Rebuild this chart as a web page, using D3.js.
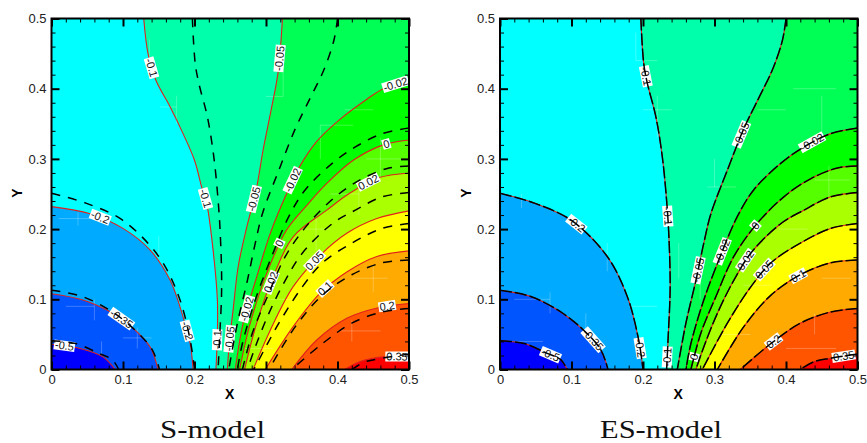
<!DOCTYPE html>
<html>
<head>
<meta charset="utf-8">
<script src="https://cdn.jsdelivr.net/npm/d3@7"></script>
<style>
    html, body { margin: 0; padding: 0; background: #fff; }
    svg { display: block; }
    text { font-family: "Liberation Sans", Arial, sans-serif; }
</style>
</head>
<body>
<div id="chart"></div>
<script>

// contour levels and the colour of the band just above each level
let levels = ["-0.5", "-0.35", "-0.2", "-0.1", "-0.05", "-0.02", "0", "0.02", "0.05", "0.1", "0.2", "0.35"];
let bandBase = "#0000ff";
let bandColors = ["#0055ff", "#00aaff", "#00ffff", "#00ffaa", "#00ff55", "#00ff00", "#55ff00", "#aaff00", "#ffff00", "#ffaa00", "#ff5500", "#ff0000"];

let majorTicks = [0, 0.1, 0.2, 0.3, 0.4, 0.5];
let minorTicks = [0.02, 0.04, 0.06, 0.08, 0.12, 0.14, 0.16, 0.18, 0.22, 0.24, 0.26, 0.28, 0.32, 0.34, 0.36, 0.38, 0.42, 0.44, 0.46, 0.48];

// S-model contours, [x, y]
let sM050 = [[0, .036], [.04, .03], [.072, .018], [.089, 0]];
let sM035 = [[0, .108], [.044, .099], [.086, .08], [.114, .059], [.138, .032], [.149, 0]];
let sM020 = [[0, .232], [.054, .222], [.1, .201], [.138, .17], [.166, .127], [.184, .075], [.194, .037], [.198, 0]];
let sM010 = [[.129, .5], [.135, .45], [.146, .412], [.166, .374], [.184, .336], [.2, .298], [.21, .26], [.217, .237], [.226, .17], [.232, .099], [.232, .052], [.23, 0]];
let sM005 = [[.323, .5], [.317, .424], [.308, .374], [.296, .313], [.287, .26], [.271, .194], [.261, .146], [.254, .085], [.249, .042], [.246, 0]];
let sM002 = [[.5, .412], [.464, .4], [.441, .385], [.403, .356], [.371, .325], [.347, .289], [.329, .251], [.306, .194], [.287, .132], [.268, .066], [.257, 0]];
let sP000 = [[.5, .327], [.464, .32], [.422, .298], [.385, .265], [.359, .236], [.329, .199], [.301, .137], [.278, .066], [.263, 0]];
let sP002 = [[.5, .28], [.457, .273], [.417, .251], [.385, .227], [.338, .189], [.31, .132], [.287, .066], [.27, 0]];
let sP005 = [[.5, .226], [.455, .215], [.413, .194], [.376, .163], [.338, .118], [.306, .056], [.282, 0]];
let sP010 = [[.5, .169], [.455, .161], [.413, .139], [.376, .109], [.338, .061], [.299, 0]];
let sP020 = [[.5, .094], [.457, .088], [.413, .073], [.371, .042], [.336, 0]];
let sP035 = [[.5, .018], [.464, .018], [.431, .011], [.41, 0]];

// ES-model contours, [x, y]
let eM050 = [[0, .041], [.034, .037], [.066, .023], [.085, .014], [.094, 0]];
let eM035 = [[0, .113], [.043, .104], [.085, .082], [.117, .056], [.141, .028], [.151, 0]];
let eM020 = [[0, .251], [.048, .237], [.099, .213], [.15, .161], [.178, .104], [.194, .042], [.2, 0]];
let eM010 = [[.197, .5], [.201, .436], [.206, .408], [.218, .36], [.227, .303], [.233, .241], [.236, .194], [.238, .118], [.235, .042], [.233, 0]];
let eM005 = [[.4, .5], [.395, .469], [.381, .427], [.362, .387], [.341, .343], [.318, .284], [.295, .222], [.285, .18], [.274, .127], [.26, .066], [.248, 0]];
let eM002 = [[.5, .344], [.4625, .336], [.425, .317], [.393, .294], [.355, .256], [.332, .218], [.306, .156], [.285, .099], [.267, .037], [.26, 0]];
let eP000 = [[.5, .29], [.472, .287], [.435, .272], [.397, .246], [.358, .206], [.327, .161], [.302, .104], [.281, .052], [.267, 0]];
let eP002 = [[.5, .252], [.4625, .246], [.425, .227], [.393, .208], [.351, .166], [.327, .127], [.304, .08], [.285, .032], [.274, 0]];
let eP005 = [[.5, .208], [.4625, .201], [.42, .18], [.379, .152], [.351, .118], [.318, .066], [.283, 0]];
let eP010 = [[.5, .156], [.4625, .152], [.42, .135], [.379, .106], [.341, .061], [.304, 0]];
let eP020 = [[.5, .087], [.4625, .082], [.42, .066], [.379, .037], [.336, 0]];
let eP035 = [[.5, .022], [.4625, .016], [.439, .011], [.42, 0]];

let sContours = [sM050, sM035, sM020, sM010, sM005, sM002, sP000, sP002, sP005, sP010, sP020, sP035];
let eContours = [eM050, eM035, eM020, eM010, eM005, eM002, eP000, eP002, eP005, eP010, eP020, eP035];

// contour labels: level, then roughly where it sits on that contour
let sLabels = [
    ["-0.1", .144, .431], ["-0.05", .32, .443], ["-0.02", .48, .41], ["0", .468, .322], ["0.02", .443, .266],
    ["-0.02", .34, .269], ["-0.05", .283, .243], ["-0.1", .213, .243], ["-0.2", .068, .217], ["0", .322, .178],
    ["0.05", .365, .158], ["0.02", .314, .121], ["0.1", .38, .119], ["-0.02", .275, .086], ["-0.05", .252, .043],
    ["-0.1", .231, .043], ["-0.2", .188, .054], ["-0.35", .097, .072], ["-0.5", .019, .036], ["0.2", .469, .091], ["0.35", .483, .024]
];
let eLabels = [
    ["-0.1", .204, .418], ["-0.05", .339, .334], ["-0.02", .435, .326], ["-0.2", .108, .208], ["-0.1", .234, .218],
    ["0", .356, .206], ["-0.02", .311, .168], ["-0.05", .276, .142], ["0.02", .344, .156], ["0.05", .367, .144],
    ["0.1", .417, .133], ["-0.35", .129, .042], ["-0.5", .071, .021], ["-0.2", .197, .03], ["-0.1", .233, .018],
    ["0", .269, .018], ["0.2", .381, .043], ["0.35", .481, .02]
];

// faint mesh lines showing through the fill, [x1, y1, x2, y2]
let sMesh = [
    [.152, .374, .175, .374], [.175, .35, .175, .39], [.376, .348, .422, .348], [.376, .3, .376, .348],
    [.324, .426, .324, .389], [.3, .389, .324, .389], [.41, .37, .45, .37], [.137, .47, .137, .43],
    [.037, .224, .037, .205], [.01, .215, .06, .215], [.15, .19, .15, .16], [.12, .03, .12, .06],
    [.1, .045, .14, .045], [.07, .02, .07, .04], [.42, .04, .42, .07], [.4, .055, .46, .055],
    [.39, .25, .43, .25], [.43, .22, .43, .26], [.02, .09, .06, .09], [.06, .07, .06, .1],
    [.44, .3, .49, .3], [.46, .27, .46, .33], [.35, .2, .39, .2], [.37, .17, .37, .22],
    [.3, .1, .34, .1], [.42, .13, .47, .13], [.45, .11, .45, .15], [.27, .03, .31, .03]
];
let eMesh = [
    [.19, .48, .19, .44], [.19, .44, .22, .44], [.2, .37, .24, .37], [.22, .33, .22, .39],
    [.41, .4, .47, .4], [.45, .34, .45, .39], [.36, .37, .4, .37], [.3, .3, .3, .26],
    [.29, .26, .33, .26], [.02, .1, .07, .1], [.07, .08, .07, .11], [.15, .14, .15, .18],
    [.18, .09, .22, .09], [.25, .18, .25, .13], [.34, .12, .38, .12], [.02, .04, .06, .04],
    [.03, .23, .03, .25], [.44, .05, .44, .08], [.4, .03, .47, .03], [.12, .05, .12, .08],
    [.44, .27, .49, .27], [.46, .24, .46, .29], [.39, .2, .43, .2], [.31, .05, .35, .05],
    [.45, .13, .49, .13], [.28, .1, .28, .14]
];

let width = 867, height = 443;
let plotSize = {w: 357.5, h: 351};
let panels = [
    {left: 51.5, top: 18.5, solid: sContours, labels: sLabels, mesh: sMesh, dash: "9 8", title: "S-model", titleLen: 105, titleX: 212.5},
    {left: 500, top: 18.5, solid: eContours, labels: eLabels, mesh: eMesh, dash: "12 3", title: "ES-model", titleLen: 122, titleX: 661}
];

let svg = d3.select("#chart").append("svg")
    .attr("width", width)
    .attr("height", height);

panels.forEach((p, i) => drawPanel(p, i));

function drawPanel(p, idx) {
    let x = d3.scaleLinear().domain([0, 0.5]).range([0, plotSize.w]);
    let y = d3.scaleLinear().domain([0, 0.5]).range([plotSize.h, 0]);

    let g = svg.append("g").attr("transform", `translate(${p.left}, ${p.top})`);

    let clipId = "plot-clip-" + idx;
    g.append("clipPath").attr("id", clipId)
        .append("rect").attr("width", plotSize.w).attr("height", plotSize.h);

    let body = g.append("g").attr("clip-path", `url(#${clipId})`);

    let line = d3.line()
        .x(d => x(d[0]))
        .y(d => y(d[1]))
        .curve(d3.curveCatmullRom.alpha(0.5));

    // which corners close each contour into a filled band
    let closing = i => {
        if (i < 3) return [[0, 0]];
        if (i < 5) return [[.5, 0], [.5, .5]];
        return [[.5, 0]];
    };

    // cyan is the background band, everything else is painted over it
    body.append("rect")
        .attr("width", plotSize.w)
        .attr("height", plotSize.h)
        .attr("fill", bandColors[2]);

    // bands right of the cyan, low to high
    d3.range(3, levels.length).forEach(i => addBand(i, bandColors[i]));
    // bands around the origin, outermost first
    addBand(2, bandColors[1]);
    addBand(1, bandColors[0]);
    addBand(0, bandBase);

    function addBand(i, color) {
        let corners = closing(i).map(c => `L${x(c[0])},${y(c[1])}`).join("");
        body.append("path")
            .attr("d", line(p.solid[i]) + corners + "Z")
            .attr("fill", color);
    }

    body.selectAll(".mesh")
        .data(p.mesh)
        .enter()
        .append("line")
        .attr("class", "mesh")
        .attr("x1", d => x(d[0]))
        .attr("y1", d => y(d[1]))
        .attr("x2", d => x(d[2]))
        .attr("y2", d => y(d[3]))
        .attr("stroke", "#fff")
        .attr("stroke-opacity", 0.3)
        .attr("stroke-width", 0.8);

    // red solid contours
    let solidPaths = p.solid.map(c => body.append("path")
        .attr("d", line(c))
        .attr("fill", "none")
        .attr("stroke", "#e0201c")
        .attr("stroke-width", 1.1));

    // labels sit under the dashed lines, and snap to their own contour
    p.labels.forEach(l => {
        let node = solidPaths[levels.indexOf(l[0])].node();
        let total = node.getTotalLength();
        let best = 0, bestDist = Infinity;
        for (let s = 0; s <= total; s += 1) {
            let pt = node.getPointAtLength(s);
            let dist = (pt.x - x(l[1])) ** 2 + (pt.y - y(l[2])) ** 2;
            if (dist < bestDist) { bestDist = dist; best = s; }
        }
        let a = node.getPointAtLength(Math.max(0, best - 8));
        let b = node.getPointAtLength(Math.min(total, best + 8));
        let c = node.getPointAtLength(best);
        let angle = Math.atan2(b.y - a.y, b.x - a.x) * 180 / Math.PI;
        if (angle > 90) angle -= 180;
        if (angle < -90) angle += 180;

        let lab = body.append("g").attr("transform", `translate(${c.x}, ${c.y}) rotate(${angle})`);
        let text = lab.append("text")
            .attr("text-anchor", "middle")
            .attr("dy", "0.35em")
            .attr("font-size", 11)
            .attr("fill", "#111")
            .text(l[0]);
        let w = text.node().getComputedTextLength();
        lab.insert("rect", "text")
            .attr("x", -w / 2 - 1)
            .attr("y", -5)
            .attr("width", w + 2)
            .attr("height", 10)
            .attr("fill", "#fff");
    });

    // black dashed contours are the ES-model in both panels
    eContours.forEach(c => {
        body.append("path")
            .attr("d", line(c))
            .attr("fill", "none")
            .attr("stroke", "#000")
            .attr("stroke-width", 1.5)
            .attr("stroke-dasharray", p.dash);
    });

    // ticks on all four sides
    let addAxis = (makeAxis, scale, dx, dy, labelled) => {
        let minor = makeAxis(scale).tickValues(minorTicks).tickSize(-4).tickFormat("");
        let major = makeAxis(scale).tickValues(majorTicks).tickSize(-8);
        if (labelled) major.tickPadding(5).tickFormat(d3.format("~g"));
        else major.tickFormat("");
        let gMinor = g.append("g").attr("transform", `translate(${dx}, ${dy})`).call(minor);
        let gMajor = g.append("g").attr("transform", `translate(${dx}, ${dy})`).call(major);
        gMinor.select(".domain").remove();
        gMajor.select(".domain").remove();
        gMinor.selectAll("line").attr("stroke", "#000").attr("stroke-width", 1);
        gMajor.selectAll("line").attr("stroke", "#000").attr("stroke-width", 2);
        gMajor.selectAll("text").attr("font-size", 13).attr("fill", "#222")
            .attr("font-family", '"Liberation Sans", Arial, sans-serif');
        return gMajor;
    };

    addAxis(d3.axisBottom, x, 0, plotSize.h, true);
    addAxis(d3.axisLeft, y, 0, 0, true);
    addAxis(d3.axisTop, x, 0, 0, false);
    addAxis(d3.axisRight, y, plotSize.w, 0, false);

    g.append("rect")
        .attr("width", plotSize.w)
        .attr("height", plotSize.h)
        .attr("fill", "none")
        .attr("stroke", "#000")
        .attr("stroke-width", 2);

    // axis titles
    g.append("text")
        .attr("x", plotSize.w / 2 - 0.5)
        .attr("y", 380)
        .attr("text-anchor", "middle")
        .attr("font-size", 14)
        .attr("font-weight", "bold")
        .text("X");

    g.append("text")
        .attr("transform", `translate(-29.5, ${plotSize.h / 2 - 1}) rotate(-90)`)
        .attr("text-anchor", "middle")
        .attr("font-size", 14)
        .attr("font-weight", "bold")
        .text("Y");

    // caption under the panel
    svg.append("text")
        .attr("x", p.titleX)
        .attr("y", 438)
        .attr("text-anchor", "middle")
        .attr("font-size", 25)
        .attr("textLength", p.titleLen)
        .attr("lengthAdjust", "spacingAndGlyphs")
        .style("font-family", '"Liberation Serif", serif')
        .attr("fill", "#111")
        .text(p.title);
}

</script>
</body>
</html>
